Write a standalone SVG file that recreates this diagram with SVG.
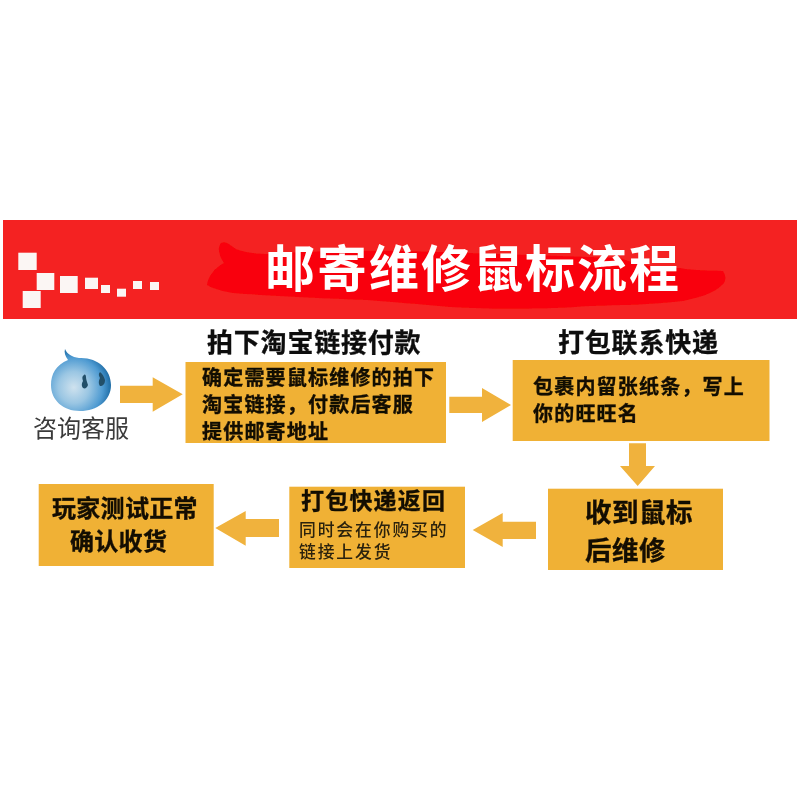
<svg xmlns="http://www.w3.org/2000/svg" width="800" height="800" viewBox="0 0 800 800">
<style>
text{font-family:"Noto Sans CJK SC","Noto Sans",sans-serif}
.soft{filter:url(#soft)}
.box{fill:#f0b136}
.arrow{fill:#f0b23c}
.sq{fill:#fbf6f4}
.b{font-weight:700;fill:#120e06;stroke:#120e06;stroke-width:.35px}
.m{font-weight:500;fill:#2a200c}
.head{font-size:26px;letter-spacing:.8px;font-weight:700;fill:#0c0c0c;stroke:#0c0c0c;stroke-width:.3px}
.body{font-size:20px;letter-spacing:1.2px}
.big{font-size:24px;letter-spacing:.3px}
.big2{font-size:23px;letter-spacing:1.2px}
.lg{font-size:26.500px;letter-spacing:.5px}
.small{font-size:16.800px;letter-spacing:1.900px}
</style>
<defs>
<filter id="soft" x="-5%" y="-5%" width="110%" height="110%"><feGaussianBlur stdDeviation="0.45"/></filter>
<radialGradient id="blob" cx="38%" cy="62%" r="64%">
<stop offset="0" stop-color="#cfe2ee"/>
<stop offset=".4" stop-color="#9ac6e3"/>
<stop offset=".75" stop-color="#4f9bd2"/>
<stop offset="1" stop-color="#16659f"/>
</radialGradient>
</defs>
<rect width="800" height="800" fill="#fff"/>
<g id="banner" class="soft">
<rect x="3" y="220" width="794" height="99" fill="#f42323"/>
<path d="M207 285C208 277 214 268 224 263C219 256 217 247 221 243C226 240 231 246 236 249C246 253 258 254 270 254C320 250 380 250 440 252L620 258C640 266 660 268 680 268C695 271 710 270 723 271C726 276 726 279 724 283C718 290 708 296 683 301C650 305 620 305 590 306C550 309 500 310 450 307C420 304 390 302 367 300C320 298 270 296 233 293C222 291 214 289 207 285Z" fill="#f90308"/>
<rect class="sq" x="18.300" y="252.700" width="18.400" height="17.300"/>
<rect class="sq" x="36.700" y="273" width="17.600" height="17"/>
<rect class="sq" x="60" y="276" width="17.700" height="17"/>
<rect class="sq" x="85" y="277.700" width="13" height="11.300"/>
<rect class="sq" x="101" y="285" width="9" height="8"/>
<rect class="sq" x="117" y="288.700" width="9" height="8"/>
<rect class="sq" x="133" y="281" width="9" height="8"/>
<rect class="sq" x="150" y="282" width="9" height="8"/>
<rect class="sq" x="22.700" y="291" width="18" height="17"/>
<text x="265" y="286.500" font-size="50" letter-spacing="2" font-weight="700" fill="#fff">邮寄维修鼠标流程</text>
</g>
<g id="connectors" class="soft">
<polygon class="arrow" points="120,385.700 152.700,385.700 152.700,377.300 182.700,394.300 152.700,411.700 152.700,403 120,403"/>
<polygon class="arrow" points="449.300,396.700 482,396.700 482,388 511,405 482,422 482,413 449.300,413"/>
<polygon class="arrow" points="629,443.300 646,443.300 646,466 655,466 637.700,486 620,466 629,466"/>
<polygon class="arrow" points="536,521.700 502.700,521.700 502.700,513 472.700,530 502.700,547 502.700,539 536,539"/>
<polygon class="arrow" points="279,519 245.700,519 245.700,511 215.300,528 245.700,545.700 245.700,537 279,537"/>
</g>
<g id="service" class="soft">
<path d="M65 349C67 354 72 357 79 358C97 357 111 369 111 385C111 401 97 411 80 411C63 411 51 400 51 385C51 374 56 365 68 360C65 356 64 352 65 349Z" fill="url(#blob)"/>
<path d="M84 375C82 376 82 378 83 381C82 383 81 385 83 388C85 389 87 388 88 385C87 382 86 379 86 377C86 375 85 374 84 375Z" fill="#234f69"/>
<path d="M100 372C98 374 99 376 100 378C99 380 98 383 100 386C103 386 105 384 105 380C104 377 103 374 100 372Z" fill="#234f69"/>
<text x="33" y="436.500" font-size="24" fill="#3a3a3a">咨询客服</text>
</g>
<g id="step1" class="soft">
<text class="head" x="207" y="352">拍下淘宝链接付款</text>
<rect class="box" x="185.500" y="362" width="260.500" height="81"/>
<text class="b body" x="202" y="385">确定需要鼠标维修的拍下</text>
<text class="b body" x="202" y="412">淘宝链接，付款后客服</text>
<text class="b body" x="202" y="439">提供邮寄地址</text>
</g>
<g id="step2" class="soft">
<text class="head" x="558" y="352">打包联系快递</text>
<rect class="box" x="512.700" y="360" width="256.800" height="81"/>
<text class="b body" x="533" y="394">包裹内留张纸条，写上</text>
<text class="b body" x="533" y="421">你的旺旺名</text>
</g>
<g id="step3" class="soft">
<rect class="box" x="548" y="488.700" width="175" height="81.300"/>
<text class="b lg" x="585" y="522">收到鼠标</text>
<text class="b lg" x="585" y="560">后维修</text>
</g>
<g id="step4" class="soft">
<rect class="box" x="289.300" y="486.700" width="175.700" height="81.300"/>
<text class="b big2" x="301" y="509.300">打包快递返回</text>
<text class="m small" x="299" y="535.500">同时会在你购买的</text>
<text class="m small" x="299" y="558">链接上发货</text>
</g>
<g id="step5" class="soft">
<rect class="box" x="38.700" y="484" width="175" height="82"/>
<text class="b big" x="52" y="517">玩家测试正常</text>
<text class="b big" x="70" y="550">确认收货</text>
</g>
</svg>
